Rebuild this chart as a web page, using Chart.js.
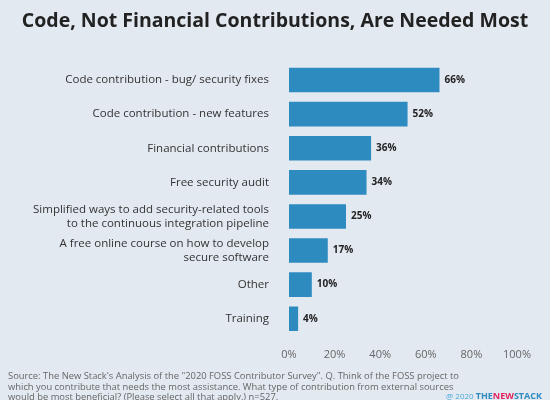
<!DOCTYPE html>
<html><head><meta charset="utf-8">
<script src="https://cdn.jsdelivr.net/npm/chart.js@4"></script>
<style>
html,body{margin:0;padding:0;background:#e3e9f1;width:550px;height:400px;overflow:hidden;font-family:"Open Sans",sans-serif}
#wrap{position:absolute;left:0;top:0;width:550px;height:400px}
#title{position:absolute;top:6px;left:0;width:550px;text-align:center;font-weight:700;font-size:19.5px;color:#222}
#src{position:absolute;left:8px;top:371px;font-size:9.4px;line-height:10.5px;color:#666;width:470px}
#logo{position:absolute;right:8px;top:389px;font-size:8px;color:#4aa8d8}
#logo b{font-size:9px;color:#2e8bc0}
</style></head><body>
<div id="wrap"><canvas id="c" width="550" height="400"></canvas></div>
<div id="title">Code, Not Financial Contributions, Are Needed Most</div>
<div id="src">Source: The New Stack's Analysis of the "2020 FOSS Contributor Survey". Q. Think of the FOSS project to which you contribute that needs the most assistance. What type of contribution from external sources would be most beneficial? (Please select all that apply.) n=527.</div>
<div id="logo">@ 2020 <b>THE<span style="color:#e0245e">NEW</span>STACK</b></div>
<script>
const categories=[["Code contribution - bug/ security fixes"],["Code contribution - new features"],["Financial contributions"],["Free security audit"],["Simplified ways to add security-related tools","to the continuous integration pipeline"],["A free online course on how to develop","secure software"],["Other"],["Training"]];
const values=[66,52,36,34,25,17,10,4];
const xTicks=[0,20,40,60,80,100];
const valLabels={id:'vl',afterDatasetsDraw(ch){const m=ch.getDatasetMeta(0),x=ch.ctx;x.save();x.font='bold 10px "Open Sans"';x.fillStyle='#222';x.textBaseline='middle';m.data.forEach((b,i)=>{x.fillText(values[i]+'%',b.x+5,b.y);});x.restore();}};
new Chart(document.getElementById('c'),{type:'bar',data:{labels:categories,datasets:[{data:values,backgroundColor:'#2e8bc0',barPercentage:0.72,categoryPercentage:1}]},
options:{indexAxis:'y',responsive:false,animation:false,events:[],layout:{padding:{top:63,bottom:35,right:33,left:0}},
plugins:{legend:{display:false},tooltip:{enabled:false}},
scales:{x:{min:0,max:100,afterBuildTicks(a){a.ticks=xTicks.map(v=>({value:v}));},grid:{display:false},border:{display:false},ticks:{padding:4,color:'#666',font:{family:'Open Sans',size:11},callback:v=>v+'%'}},
y:{grid:{display:false},border:{display:false},afterFit(a){a.width=289;},ticks:{padding:12,color:'#333',font:{family:'Open Sans',size:11.5}}}}},plugins:[valLabels]});
</script></body></html>
